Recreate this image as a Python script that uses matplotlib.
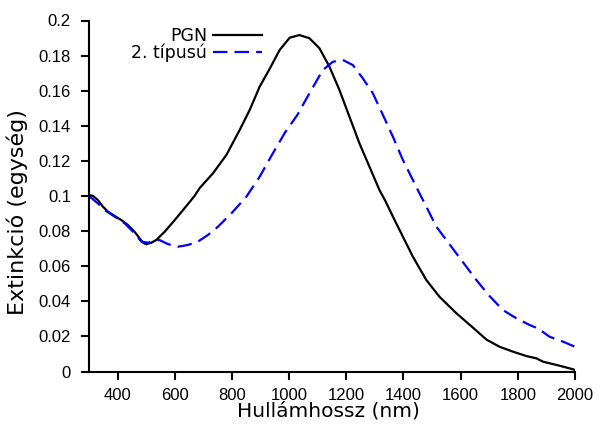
import matplotlib
matplotlib.use("Agg")
import matplotlib.pyplot as plt

# Extinction spectra: wavelength (nm) vs extinction (arbitrary units)
pgn_wl = [300, 314, 331, 349, 366, 390, 413, 436, 459, 477, 489, 500, 518, 535,
          565, 600, 634, 669, 687, 734, 781, 827, 862, 897, 932, 967, 1002,
          1036, 1071, 1106, 1141, 1176, 1211, 1246, 1281, 1316, 1335, 1369,
          1398, 1433, 1480, 1526, 1585, 1643, 1690, 1736, 1783, 1830, 1865,
          1888, 1911, 1946, 1981, 2000]
pgn_ext = [0.1006, 0.1000, 0.0977, 0.0939, 0.0911, 0.0886, 0.0863, 0.0835,
           0.0797, 0.0759, 0.0734, 0.0725, 0.0734, 0.0749, 0.0797, 0.0863,
           0.0930, 0.1000, 0.1045, 0.1130, 0.1235, 0.1376, 0.1490, 0.1623,
           0.1725, 0.1832, 0.1902, 0.1917, 0.1899, 0.1842, 0.1737, 0.1604,
           0.1452, 0.1300, 0.1167, 0.1034, 0.0977, 0.0863, 0.0768, 0.0654,
           0.0521, 0.0426, 0.0332, 0.0250, 0.0182, 0.0141, 0.0113, 0.0088,
           0.0075, 0.0056, 0.0047, 0.0033, 0.0018, 0.0009]

t2_wl = [300, 331, 355, 390, 425, 460, 483, 506, 529, 547, 576, 611, 646, 681,
         716, 751, 798, 850, 897, 943, 985, 1028, 1071, 1118, 1153, 1188, 1223,
         1258, 1293, 1328, 1363, 1398, 1433, 1456, 1480, 1515, 1550, 1585,
         1620, 1655, 1701, 1748, 1795, 1841, 1870, 1911, 1958, 2000]
t2_ext = [0.1000, 0.0958, 0.0920, 0.0882, 0.0844, 0.0787, 0.0740, 0.0734,
          0.0745, 0.0749, 0.0726, 0.0711, 0.0721, 0.0740, 0.0778, 0.0825,
          0.0901, 0.0995, 0.1110, 0.1243, 0.1360, 0.1460, 0.1585, 0.1718,
          0.1765, 0.1775, 0.1746, 0.1670, 0.1585, 0.1462, 0.1338, 0.1205,
          0.1091, 0.1015, 0.0939, 0.0825, 0.0749, 0.0673, 0.0597, 0.0521,
          0.0430, 0.0350, 0.0303, 0.0265, 0.0246, 0.0198, 0.0170, 0.0141]

x_ticks = [400, 600, 800, 1000, 1200, 1400, 1600, 1800, 2000]
y_ticks = [0, 0.02, 0.04, 0.06, 0.08, 0.1, 0.12, 0.14, 0.16, 0.18, 0.2]
y_tick_labels = ["0", "0.02", "0.04", "0.06", "0.08", "0.1", "0.12", "0.14",
                 "0.16", "0.18", "0.2"]

W, H = 600, 424
fig = plt.figure(figsize=(W / 100, H / 100), dpi=100)
ax = fig.add_axes([89 / W, 1 - 371.5 / H, (575 - 89) / W, (371.5 - 20.5) / H])

ax.plot(pgn_wl, pgn_ext, color="black", lw=1.6, label="PGN")
ax.plot(t2_wl, t2_ext, color="#0000ff", lw=1.6, dashes=(6.5, 3.2),
        label="2. típusú")

ax.set_xlim(300, 2000)
ax.set_ylim(0, 0.2)
ax.set_xticks(x_ticks)
ax.set_yticks(y_ticks)
ax.set_yticklabels(y_tick_labels)

for lbl in ax.get_xticklabels() + ax.get_yticklabels():
    lbl.set_fontfamily("Liberation Sans")
    lbl.set_fontsize(12)

ax.spines["top"].set_visible(False)
ax.spines["right"].set_visible(False)
ax.spines["left"].set_linewidth(1.5)
ax.spines["bottom"].set_linewidth(1.5)
ax.tick_params(direction="out", length=6, width=1.5)
ax.tick_params(axis="y", pad=7)
ax.tick_params(axis="x", pad=6)

ax.set_xlabel("Hullámhossz (nm)", fontsize=14.5, family="DejaVu Sans")
ax.set_ylabel("Extinkció (egység)", fontsize=16, family="DejaVu Sans")
ax.xaxis.set_label_coords(0.492, -0.086)
ax.yaxis.set_label_coords(-0.1255, 0.454)

leg = ax.legend(loc="upper right", bbox_to_anchor=(262 / W, 1 - 27 / H),
                bbox_transform=fig.transFigure, frameon=False,
                markerfirst=False, prop={"family": "DejaVu Sans", "size": 12.5},
                handlelength=2.8, handletextpad=0.35, labelspacing=-0.08,
                borderpad=0, borderaxespad=0)
for t in leg.get_texts():
    t.set_ha("right")

fig.savefig("out.png", dpi=100)
